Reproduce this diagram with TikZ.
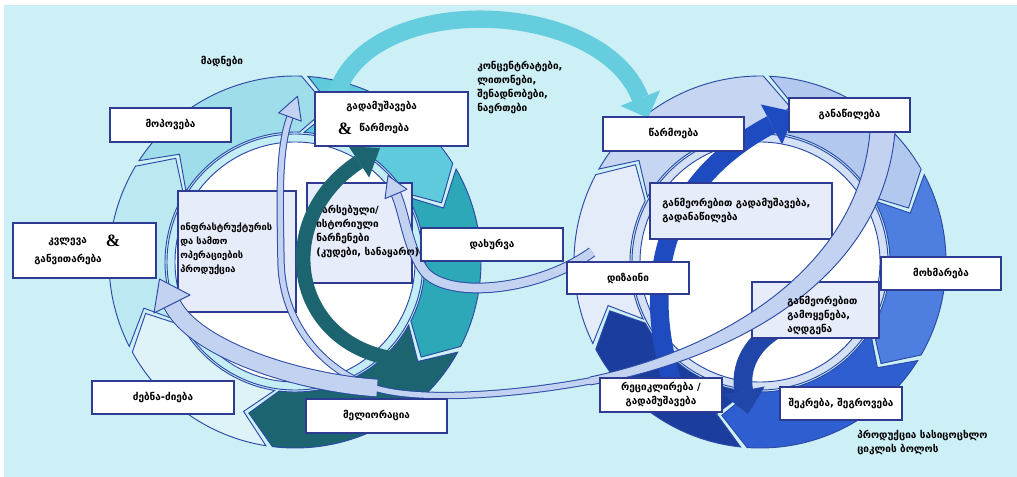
\documentclass[tikz,border=0pt]{standalone}
\usepackage{fontspec}
\setmainfont{DejaVu Sans}
\newfontfamily\ampfont{Liberation Serif}
\usetikzlibrary{arrows.meta,calc}
\definecolor{bg}{HTML}{CDEFF6}
\definecolor{segline}{HTML}{2B4AA5}
\definecolor{boxline}{HTML}{2E3B93}
\definecolor{L1}{HTML}{BCE8F2}
\definecolor{L2}{HTML}{A0DDEA}
\definecolor{L3}{HTML}{5ECADB}
\definecolor{L4}{HTML}{2CA8B8}
\definecolor{L5}{HTML}{1C6570}
\definecolor{L6}{HTML}{DDF3F8}
\definecolor{R1}{HTML}{E4ECFA}
\definecolor{R2}{HTML}{C6D5F2}
\definecolor{R3}{HTML}{B3C8EF}
\definecolor{R4}{HTML}{4D7EE0}
\definecolor{R5}{HTML}{2E5ECF}
\definecolor{R6}{HTML}{1B3E9E}
\definecolor{bandL}{HTML}{C5EDF5}
\definecolor{bandR}{HTML}{D3E0F6}
\definecolor{topcyan}{HTML}{66CDDE}
\definecolor{darkteal}{HTML}{1B6470}
\definecolor{dblueA}{HTML}{1E4BC0}
\definecolor{dblueB}{HTML}{1F46A8}
\definecolor{palearrow}{HTML}{C3D2F0}
\definecolor{palebox}{HTML}{E6ECFA}
\newcommand{\ringseg}[3]{%
  \filldraw[segst, fill=#3] ({#1+1}:186) arc[start angle={#1+1}, end angle={#2-1}, radius=186]
    -- ({#2+9}:158) -- ({#2-1}:130) arc[start angle={#2-1}, end angle={#1+1}, radius=130]
    -- ({#1+11}:158) -- cycle;}
\tikzset{
  segst/.style={draw=segline, line width=0.7pt},
  box/.style={draw=boxline, line width=1.1pt, fill=white, inner sep=0pt, align=center},
  pbox/.style={box, fill=palebox},
  lbl/.style={inner sep=0pt, align=left},
  amp/.style={inner sep=0pt, font=\ampfont\bfseries\fontsize{13}{13}\selectfont},
  paleout/.style={draw=segline},
  palein/.style={draw=palearrow},
  headst/.style={fill=palearrow, draw=segline, line width=0.7pt, line join=round}
}
\begin{document}
\begin{tikzpicture}[x=0.75pt,y=-0.75pt, font=\bfseries\fontsize{7.5}{10.5}\selectfont]
\useasboundingbox (0,0) rectangle (1017,477);
\fill[bg] (4,5) rectangle (1017,477);
\coordinate (CL) at (295,262);
\coordinate (CR) at (760,262);
% left ring
\begin{scope}[shift={(CL)}]
  \ringseg{152}{212}{L1}
  \ringseg{212}{273}{L2}
  \ringseg{273}{329}{L3}
  \ringseg{329}{388}{L4}
  \ringseg{388}{458}{L5}
  \ringseg{458}{512}{L6}
  \filldraw[segst, fill=bandL] (0,0) circle[radius=128];
  \filldraw[segst, fill=white] (0,0) circle[radius=120];
\end{scope}
% right ring
\begin{scope}[shift={(CR)}]
  \ringseg{153}{209}{R1}
  \ringseg{209}{272}{R2}
  \ringseg{272}{331}{R3}
  \ringseg{331}{391}{R4}
  \ringseg{391}{455}{R5}
  \ringseg{455}{513}{R6}
  \filldraw[segst, fill=bandR] (0,0) circle[radius=128];
  \filldraw[segst, fill=white] (0,0) circle[radius=120];
\end{scope}
% top cyan arrow
\coordinate (topA) at (335,100);
\coordinate (topB) at (648,118);
\draw[topcyan, line width=13pt, -{Triangle[length=16pt,width=32pt,line width=0pt]}]
  (topA) .. controls (360,-10) and (600,-5) .. (topB);
% pale boxes (behind arrows)
\node[pbox, minimum width=88.5pt, minimum height=90.75pt] (infra) at (237,251.5) {};
\node[pbox, minimum width=78.75pt, minimum height=75pt] (arseb) at (359.5,233) {};
% dark inner arrows
\coordinate (dtA) at (403,360);
\coordinate (dtB) at (380,148);
\draw[darkteal, line width=11pt, -{Triangle[length=19pt,width=28pt,line width=0pt]}]
  (dtA) .. controls (292,350) and (268,222) .. (dtB);
\coordinate (dbA) at (675,392);
\coordinate (dbB) at (795,112);
\draw[dblueA, line width=14pt, -{Triangle[length=20pt,width=34pt,line width=0pt]}]
  (dbA) .. controls (645,300) and (648,190) .. (dbB);
\coordinate (dcA) at (790,322);
\coordinate (dcB) at (748,414);
\draw[dblueB, line width=14pt, -{Triangle[length=18pt,width=32pt,line width=0pt]}]
  (dcA) .. controls (748,340) and (740,370) .. (dcB);
\node[pbox, minimum width=136.5pt, minimum height=42pt] (ganmA) at (741,211) {};
\node[pbox, minimum width=95.25pt, minimum height=42pt] (ganmB) at (815.5,310) {};
% long pale arrow, thin part
\draw[paleout, line width=5.5pt] (600,379) .. controls (520,395) and (420,402) .. (375,388)
  .. controls (320,370) and (282,320) .. (281,262) .. controls (280,200) and (278,150) .. (290,117);
\draw[palein, line width=4pt] (600,379) .. controls (520,395) and (420,402) .. (375,388)
  .. controls (320,370) and (282,320) .. (281,262) .. controls (280,200) and (278,150) .. (290,117);
\filldraw[headst] (301.3,121.1) -- (297.5,96.3) -- (278.7,112.9) -- cycle;
% long pale arrow, wide part
\fill[palearrow] (870,132) .. controls (858,270) and (720,350) .. (590,377) -- (590,385)
  .. controls (730,360) and (882,282) .. (895,132) -- cycle;
\draw[segst] (870,132) .. controls (858,270) and (720,350) .. (590,377);
\draw[segst] (590,385) .. controls (730,360) and (882,282) .. (895,132);
% pale arrow to the left
\draw[paleout, line width=14pt] (377,388) .. controls (300,383) and (195,350) .. (172,304);
\draw[palein, line width=12.5pt] (377,388) .. controls (300,383) and (195,350) .. (172,304);
\filldraw[headst] (190,295) -- (159.5,279) -- (154,313) -- cycle;
% pale arrow from design
\draw[paleout, line width=8pt] (592,252) .. controls (540,290) and (450,300) .. (425,272)
  .. controls (408,250) and (405,215) .. (396,194);
\draw[palein, line width=6.5pt] (592,252) .. controls (540,290) and (450,300) .. (425,272)
  .. controls (408,250) and (405,215) .. (396,194);
\filldraw[headst] (407,189.3) -- (388,175.6) -- (385,198.7) -- cycle;
% white boxes
\node[box, minimum width=90.75pt, minimum height=25.5pt] (mopov) at (170.5,125) {მოპოვება};
\node[box, minimum width=107.25pt, minimum height=41.25pt] (kvlev) at (84.5,250.5) {};
\node[box, minimum width=114.75pt, minimum height=40.5pt] (gadam) at (391.5,119) {};
\node[box, minimum width=106.5pt, minimum height=24.75pt] (dakhur) at (492,244.5) {დახურვა};
\node[box, minimum width=105.75pt, minimum height=25.5pt] (melior) at (376.5,416) {მელიორაცია};
\node[box, minimum width=106.5pt, minimum height=24.75pt] (dzebna) at (163,397.5) {ძებნა-ძიება};
\node[box, minimum width=105.75pt, minimum height=25.5pt] (tsarm) at (673.5,134) {წარმოება};
\node[box, minimum width=90.75pt, minimum height=25.5pt] (ganats) at (849.5,115) {განაწილება};
\node[box, minimum width=91.5pt, minimum height=24pt] (dizain) at (628,278) {დიზაინი};
\node[box, minimum width=90pt, minimum height=24.75pt] (mokhm) at (941,273.5) {მოხმარება};
\node[box, minimum width=91.5pt, minimum height=25.5pt] (recyc) at (661,395) {რეციკლირება /\\გადამუშავება};
\node[box, minimum width=91.5pt, minimum height=24.75pt] (shekr) at (841,403.5) {შეკრება, შეგროვება};
% texts
\node[lbl] (t-madn) at (222,62) {მადნები};
\node[lbl, anchor=west] (t-kv1) at (48,242) {კვლევა};
\node[amp] (t-kvamp) at (113,241) {\&};
\node[lbl, anchor=west] (t-kv2) at (34,260) {განვითარება};
\node[lbl, anchor=west] (t-gd1) at (346,107) {გადამუშავება};
\node[amp] (t-gdamp) at (345,129) {\&};
\node[lbl, anchor=west] (t-gd2) at (359,129) {წარმოება};
\node[lbl, anchor=west, font=\bfseries\fontsize{7}{10.5}\selectfont] (t-infra) at (180,249) {ინფრასტრუქტურის\\და სამთო\\ოპერაციების\\პროდუქცია};
\node[lbl, anchor=west] (t-arseb) at (316,232) {\hspace*{0.6em}არსებული/\\ისტორიული\\ნარჩენები\\(კუდები, სანაყარო)};
\node[lbl, anchor=north west] (t-konc) at (477,61) {კონცენტრატები,\\ლითონები,\\შენადნობები,\\ნაერთები};
\node[lbl, anchor=west] (t-ganmA) at (662,211) {განმეორებით გადამუშავება,\\გადანაწილება};
\node[lbl, anchor=west] (t-ganmB) at (787,316) {განმეორებით\\გამოყენება,\\აღდგენა};
\node[lbl, anchor=north west] (t-end) at (857,430) {პროდუქცია სასიცოცხლო\\ციკლის ბოლოს};
\end{tikzpicture}
\end{document}
